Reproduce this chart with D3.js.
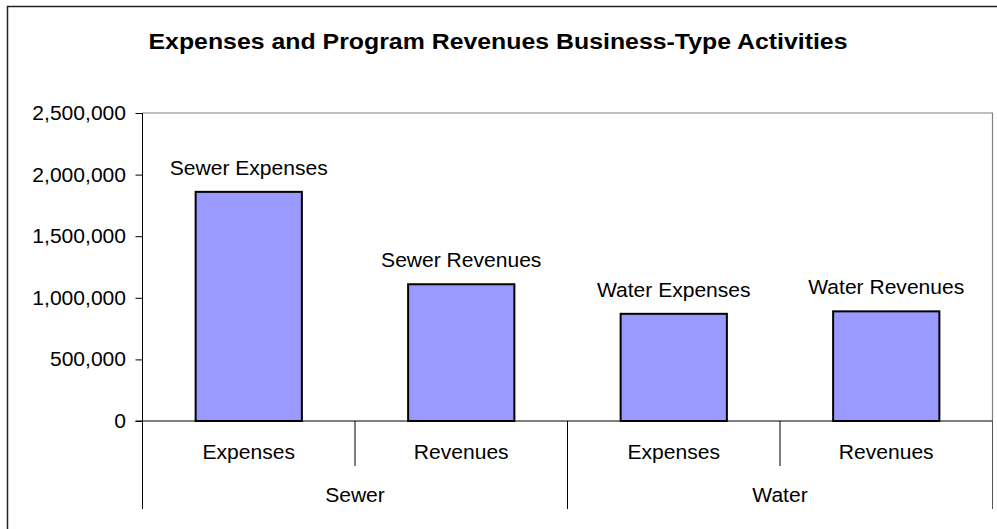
<!DOCTYPE html>
<html><head><meta charset="utf-8">
<script src="https://cdn.jsdelivr.net/npm/d3@7"></script>
<style>
html,body{margin:0;padding:0;background:#fff;overflow:hidden}
text{font-family:"Liberation Sans",Arial,sans-serif;fill:#000}
</style></head>
<body>
<script>
const title = "Expenses and Program Revenues Business-Type Activities";
const groups = ["Sewer", "Water"];
const categories = ["Expenses", "Revenues", "Expenses", "Revenues"];
const categoryGroup = ["Sewer", "Sewer", "Water", "Water"];
const values = [1860000, 1110000, 870000, 890000];
const barLabels = ["Sewer Expenses", "Sewer Revenues", "Water Expenses", "Water Revenues"];
const yTicks = [0, 500000, 1000000, 1500000, 2000000, 2500000];

const W = 997, H = 529;
const plot = {left: 142.5, right: 992.5, top: 113, bottom: 421};
const tier1 = 466, tier2 = 509;
const SX = 1.08;

const svg = d3.select("body").append("svg").attr("width", W).attr("height", H);

// outer chart border
svg.append("rect").attr("x", 7.5).attr("y", 6.5).attr("width", W + 10).attr("height", H + 10)
  .attr("fill", "#fff").attr("stroke", "#222").attr("stroke-width", 1.5);

function txt(g, x, y, s, size, anchor, weight, sx) {
  return g.append("text")
    .attr("transform", `translate(${x},${y}) scale(${sx || SX},1)`)
    .attr("text-anchor", anchor || "middle")
    .style("font-size", size + "px")
    .style("font-weight", weight || "normal")
    .text(s);
}

txt(svg, 498, 49, title, 22, "middle", "bold", 1.13);

const idx = categories.map((c, i) => i);
const x = d3.scaleBand().domain(idx).range([plot.left, plot.right]).paddingInner(0.5).paddingOuter(0.25);
const y = d3.scaleLinear().domain([0, 2500000]).range([plot.bottom, plot.top]);

// plot area border (top & right)
svg.append("path")
  .attr("d", `M${plot.left},${plot.top}H${plot.right}V${plot.bottom}`)
  .attr("fill", "none").attr("stroke", "#808080").attr("stroke-width", 1.2);

// y axis
const yAxis = d3.axisLeft(y).tickValues(yTicks).tickSize(7).tickPadding(0).tickFormat(d3.format(","));
const yg = svg.append("g").attr("transform", `translate(${plot.left},0)`).call(yAxis);
yg.select(".domain").remove();
yg.selectAll(".tick line").attr("stroke", "#000");
yg.selectAll(".tick text").remove();
yTicks.forEach(t => {
  txt(svg, 126, y(t) + 7, d3.format(",")(t), 19.5, "end");
});
svg.append("line").attr("x1", plot.left).attr("x2", plot.left).attr("y1", plot.top).attr("y2", tier2)
  .attr("stroke", "#000");

// bars
svg.selectAll("rect.bar").data(values).enter().append("rect").attr("class", "bar")
  .attr("x", (d, i) => x(i)).attr("width", x.bandwidth())
  .attr("y", d => y(d)).attr("height", d => y(0) - y(d))
  .attr("fill", "#9999FF").attr("stroke", "#000").attr("stroke-width", 2);

// bar labels
values.forEach((v, i) => {
  txt(svg, x(i) + x.bandwidth() / 2, y(v) - 17, barLabels[i], 19.5, "middle");
});

// category axis baseline
svg.append("line").attr("x1", plot.left - 7).attr("x2", plot.right).attr("y1", plot.bottom).attr("y2", plot.bottom)
  .attr("stroke", "#000").attr("stroke-width", 1.2);

const step = x.step();
idx.forEach(i => {
  const bx = plot.left + step * (i + 1);
  const isGroupEnd = i === categories.length - 1 || categoryGroup[i] !== categoryGroup[i + 1];
  svg.append("line").attr("x1", bx).attr("x2", bx).attr("y1", plot.bottom).attr("y2", isGroupEnd ? tier2 : tier1)
    .attr("stroke", i === categories.length - 1 ? "#555" : "#000");
  txt(svg, plot.left + step * (i + 0.5), 459, categories[i], 19.5, "middle");
});
groups.forEach(g => {
  const members = idx.filter(i => categoryGroup[i] === g);
  const x0 = plot.left + step * members[0];
  const x1 = plot.left + step * (members[members.length - 1] + 1);
  txt(svg, (x0 + x1) / 2, 502, g, 19.5, "middle");
});
</script>
</body></html>
